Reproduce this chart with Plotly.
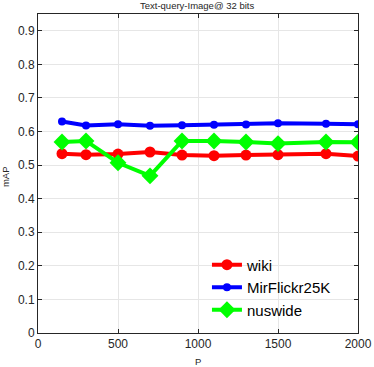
import plotly.graph_objects as go

P = [150, 300, 500, 700, 900, 1100, 1300, 1500, 1800, 2000]
wiki = [0.534, 0.531, 0.533, 0.539, 0.530, 0.528, 0.530, 0.531, 0.534, 0.527]
mirflickr = [0.630, 0.618, 0.622, 0.617, 0.619, 0.620, 0.621, 0.625, 0.623, 0.622]
nuswide = [0.569, 0.572, 0.507, 0.468, 0.572, 0.572, 0.569, 0.564, 0.569, 0.568]

x_ticks = [0, 500, 1000, 1500, 2000]
y_ticks = [0, 0.1, 0.2, 0.3, 0.4, 0.5, 0.6, 0.7, 0.8, 0.9]

FONT = "Liberation Sans, Arial"

fig = go.Figure()
fig.add_trace(go.Scatter(x=P, y=wiki, name="wiki", mode="lines+markers",
                         line=dict(color="#ff0000", width=4),
                         marker=dict(symbol="circle", size=11, color="#ff0000")))
fig.add_trace(go.Scatter(x=P, y=mirflickr, name="MirFlickr25K", mode="lines+markers",
                         line=dict(color="#0000ff", width=4),
                         marker=dict(symbol="circle", size=8, color="#0000ff")))
fig.add_trace(go.Scatter(x=P, y=nuswide, name="nuswide", mode="lines+markers",
                         line=dict(color="#00ff00", width=4),
                         marker=dict(symbol="diamond", size=13, color="#00ff00")))

axis_common = dict(showgrid=True, gridcolor="#e6e6e6", gridwidth=1,
                   showline=True, linecolor="#262626", linewidth=1, mirror="ticks",
                   ticks="inside", ticklen=4, tickcolor="#262626", zeroline=False,
                   automargin=False,
                   tickfont=dict(family=FONT, size=12, color="#262626"))

fig.update_xaxes(range=[0, 2000], tickvals=x_ticks, **axis_common)
fig.update_yaxes(range=[0, 0.95], tickvals=y_ticks, ticktext=[("%g" % v) for v in y_ticks],
                 **axis_common)

fig.add_annotation(text="P", xref="paper", yref="paper", x=0.5, y=-0.088,
                   xanchor="center", yanchor="middle", showarrow=False,
                   font=dict(family=FONT, size=9.5, color="#262626"))
fig.add_annotation(text="mAP", xref="paper", yref="paper", x=-0.102, y=0.49,
                   xanchor="center", yanchor="middle", showarrow=False, textangle=-90,
                   font=dict(family=FONT, size=9.5, color="#262626"))

fig.update_layout(
    width=374, height=367,
    margin=dict(l=38, r=16, t=14, b=34, autoexpand=False),
    paper_bgcolor="white", plot_bgcolor="white",
    title=dict(text="Text-query-Image@ 32 bits", x=0.527, xanchor="center", y=0.984, yanchor="middle",
               font=dict(family=FONT, size=9.5, color="#262626")),
    legend=dict(x=0.528, y=0.265, xanchor="left", yanchor="top",
                bgcolor="rgba(255,255,255,0)", borderwidth=0,
                font=dict(family=FONT, size=15, color="#000000")),
    showlegend=True,
)

fig.write_html("out.html", config={"displayModeBar": False},
               post_script="document.body.style.margin='0';")
